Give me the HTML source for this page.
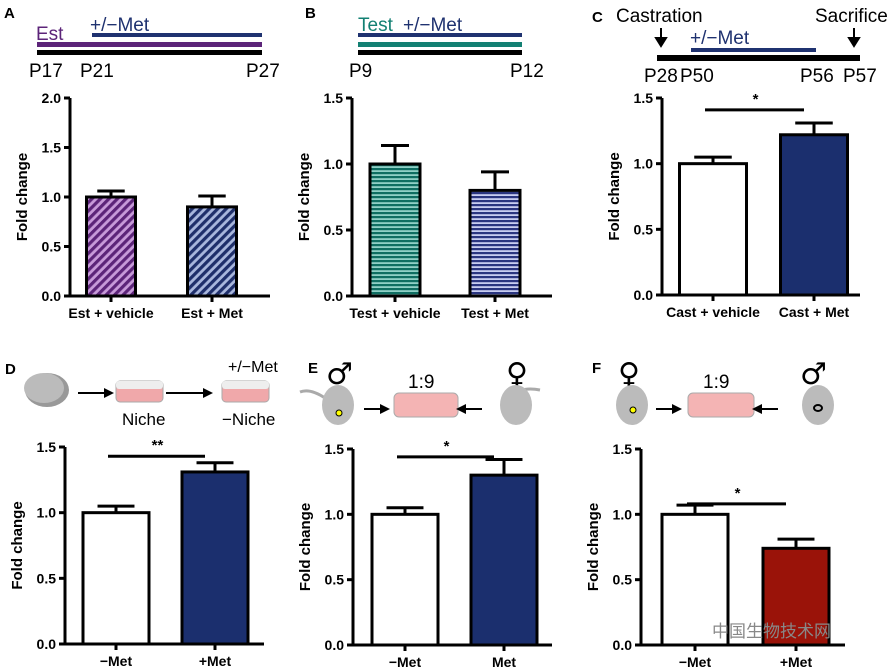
<!DOCTYPE html>
<html><head><meta charset="utf-8"><style>
body{margin:0;background:#fff}
svg{display:block;font-family:"Liberation Sans",Arial,sans-serif}
.t{font-weight:bold;font-size:15px}
.sym{font-family:"DejaVu Sans",sans-serif;font-size:30px}
</style></head><body>
<svg id="fig" width="894" height="669" viewBox="0 0 894 669" xmlns="http://www.w3.org/2000/svg">
<defs>
<pattern id="pPurple" patternUnits="userSpaceOnUse" width="6" height="6" patternTransform="rotate(45)"><rect width="6" height="6" fill="#c79ad9"/><rect width="3.2" height="6" fill="#5c2479"/></pattern>
<pattern id="pNavy" patternUnits="userSpaceOnUse" width="6" height="6" patternTransform="rotate(45)"><rect width="6" height="6" fill="#a9b7dd"/><rect width="3.2" height="6" fill="#1f2f6b"/></pattern>
<pattern id="pTeal" patternUnits="userSpaceOnUse" width="4" height="4"><rect width="4" height="4" fill="#8fd0c6"/><rect width="4" height="2.2" fill="#0f6e62"/></pattern>
<pattern id="pBlueH" patternUnits="userSpaceOnUse" width="4" height="4"><rect width="4" height="4" fill="#c7cdf0"/><rect width="4" height="2.2" fill="#2a3580"/></pattern>
</defs>
<g id="schemes" font-size="19">
 <text x="4" y="18" class="t">A</text>
 <text x="36" y="40" fill="#5c2479">Est</text>
 <text x="90" y="31" fill="#1f3270">+/−Met</text>
 <rect x="92" y="33" width="170" height="4" fill="#1f3270"/>
 <rect x="37" y="42" width="225" height="5" fill="#5c2479"/>
 <rect x="37" y="50" width="225" height="5" fill="#000"/>
 <text x="29" y="77">P17</text><text x="80" y="77">P21</text><text x="246" y="77">P27</text>
 <text x="305" y="18" class="t">B</text>
 <text x="358" y="31" fill="#138073">Test</text>
 <text x="403" y="31" fill="#1f3270">+/−Met</text>
 <rect x="358" y="33" width="164" height="4" fill="#1f3270"/>
 <rect x="358" y="42" width="164" height="5" fill="#138073"/>
 <rect x="358" y="50" width="164" height="5" fill="#000"/>
 <text x="349" y="77">P9</text><text x="510" y="77">P12</text>
 <text x="592" y="22" class="t">C</text>
 <text x="616" y="22">Castration</text>
 <text x="815" y="22">Sacrifice</text>
 <path d="M661 28V44M656 38L661 46L666 38Z" stroke="#000" stroke-width="2" fill="#000"/>
 <path d="M854 28V44M849 38L854 46L859 38Z" stroke="#000" stroke-width="2" fill="#000"/>
 <text x="690" y="44" fill="#1f3270">+/−Met</text>
 <rect x="691" y="48" width="125" height="4" fill="#1f3270"/>
 <rect x="657" y="55" width="203" height="6" fill="#000"/>
 <text x="644" y="82">P28</text><text x="680" y="82">P50</text><text x="800" y="82">P56</text><text x="843" y="82">P57</text>
 <text x="5" y="374" class="t">D</text>
 <ellipse cx="47" cy="390" rx="22" ry="17" fill="#999"/>
 <ellipse cx="44" cy="388" rx="20" ry="15" fill="#bbb"/>
 <path d="M78 393H106" stroke="#000" stroke-width="2"/><path d="M104 388L114 393L104 398Z"/>
 <rect x="116" y="381" width="47" height="21" rx="4" fill="#f0a8aa" stroke="#aaa"/><rect x="116" y="381" width="47" height="8" rx="3" fill="#eee"/>
 <path d="M166 393H205" stroke="#000" stroke-width="2"/><path d="M203 388L213 393L203 398Z"/>
 <rect x="222" y="381" width="47" height="21" rx="4" fill="#f0a8aa" stroke="#aaa"/><rect x="222" y="381" width="47" height="8" rx="3" fill="#eee"/>
 <text x="122" y="425" font-size="17">Niche</text>
 <text x="222" y="425" font-size="17">−Niche</text>
 <text x="228" y="372" font-size="16">+/−Met</text>
 <text x="308" y="373" class="t">E</text>
 <text x="326" y="384" class="sym">♂</text>
 <path d="M325 398Q310 388 300 392" stroke="#aaa" stroke-width="3" fill="none"/>
 <ellipse cx="338" cy="405" rx="16" ry="20" fill="#bbb"/><circle cx="339" cy="413" r="3" fill="#ff0" stroke="#000"/>
 <path d="M364 409H382" stroke="#000" stroke-width="2"/><path d="M380 404L390 409L380 414Z"/>
 <rect x="394" y="393" width="64" height="24" rx="5" fill="#f4b4b4" stroke="#aaa"/>
 <text x="408" y="388" font-size="19">1:9</text>
 <path d="M464 409H482" stroke="#000" stroke-width="2"/><path d="M466 404L456 409L466 414Z"/>
 <text x="506" y="384" class="sym">♀</text>
 <path d="M506 398Q520 386 540 390" stroke="#aaa" stroke-width="3" fill="none"/>
 <ellipse cx="516" cy="405" rx="16" ry="20" fill="#bbb"/>
 <text x="592" y="373" class="t">F</text>
 <text x="618" y="384" class="sym">♀</text>
 <ellipse cx="632" cy="405" rx="16" ry="20" fill="#bbb"/><circle cx="633" cy="410" r="3" fill="#ff0" stroke="#000"/>
 <path d="M656 409H674" stroke="#000" stroke-width="2"/><path d="M672 404L682 409L672 414Z"/>
 <rect x="688" y="393" width="66" height="24" rx="5" fill="#f4b4b4" stroke="#aaa"/>
 <text x="703" y="388" font-size="19">1:9</text>
 <path d="M760 409H778" stroke="#000" stroke-width="2"/><path d="M762 404L752 409L762 414Z"/>
 <text x="800" y="384" class="sym">♂</text>
 <ellipse cx="818" cy="405" rx="16" ry="20" fill="#bbb"/><ellipse cx="818" cy="408" rx="4" ry="3" fill="none" stroke="#000" stroke-width="2"/>
</g>
<g id="charts"></g>
<text x="712" y="637" font-size="17" fill="#888" font-family="'Liberation Sans','Noto Sans CJK SC',sans-serif">中国生物技术网</text>
</svg>
<script>
const catsA=["Est + vehicle","Est + Met"], valsA=[1.0,0.9], errA=[0.06,0.11];
const catsB=["Test + vehicle","Test + Met"], valsB=[1.0,0.8], errB=[0.14,0.14];
const catsC=["Cast + vehicle","Cast + Met"], valsC=[1.0,1.22], errC=[0.05,0.09];
const catsD=["−Met","+Met"], valsD=[1.0,1.31], errD=[0.05,0.07];
const catsE=["−Met","Met"], valsE=[1.0,1.30], errE=[0.05,0.12];
const catsF=["−Met","+Met"], valsF=[1.0,0.74], errF=[0.07,0.07];
const ticksA=["0.0","0.5","1.0","1.5","2.0"];
const ticks15=["0.0","0.5","1.0","1.5"];
const NS="http://www.w3.org/2000/svg";
const root=document.getElementById('charts');
function mk(tag,at,parent){const e=document.createElementNS(NS,tag);for(const k in at)e.setAttribute(k,at[k]);(parent||root).appendChild(e);return e;}
function chart(id,cfg,cats,vals,errs,ticks,fills,sig){
  const g=mk('g',{});
  
  
  const max=parseFloat(ticks[ticks.length-1]);
  const y=v=>cfg.y0-(v/max)*(cfg.y0-cfg.yt);
  const bw=cfg.bw;
  const xc=i=>cfg.x0+cfg.first+i*cfg.step;
  ticks.forEach(t=>{const v=parseFloat(t);
    mk('line',{x1:cfg.x0-6,x2:cfg.x0,y1:y(v),y2:y(v),stroke:'#000','stroke-width':3},g);
    const tx=mk('text',{x:cfg.x0-9,y:y(v)+5,'text-anchor':'end','font-weight':'bold','font-size':14},g);tx.textContent=t;
    
    
  });
  const yl=mk('text',{transform:`translate(${cfg.x0-43},${(cfg.y0+cfg.yt)/2}) rotate(-90)`,'text-anchor':'middle','font-weight':'bold','font-size':15},g);yl.textContent='Fold change';
  
  
  cats.forEach((c,i)=>{
    const cx=xc(i),top=y(vals[i]),et=y(vals[i]+errs[i]);
    mk('line',{x1:cx,x2:cx,y1:et,y2:top,stroke:'#000','stroke-width':3},g);
    mk('line',{x1:cx-bw*0.28,x2:cx+bw*0.28,y1:et,y2:et,stroke:'#000','stroke-width':3},g);
    const b=mk('rect',{x:cx-bw/2,y:top,width:bw,height:cfg.y0-top,fill:fills[i],stroke:'#000','stroke-width':3},g);
    
    
    mk('line',{x1:cx,x2:cx,y1:cfg.y0,y2:cfg.y0+6,stroke:'#000','stroke-width':3},g);
    const t=mk('text',{x:cx,y:cfg.y0+22,'text-anchor':'middle','font-weight':'bold','font-size':14},g);t.textContent=c;
    
    
  });
  mk('path',{d:`M${cfg.x0} ${cfg.yt}V${cfg.y0}H${cfg.xe}`,stroke:'#000','stroke-width':3,fill:'none'},g);
  if(sig){const sy=y(sig.at);
    const l=mk('line',{x1:xc(0)-8,x2:xc(1)-10,y1:sy,y2:sy,stroke:'#000','stroke-width':3},g);
    
    
    const s=mk('text',{x:(xc(0)+xc(1))/2-8,y:sy-6,'text-anchor':'middle','font-weight':'bold','font-size':15},g);s.textContent=sig.s;
    
    
  }
}
chart('a',{x0:70,y0:296,yt:98,xe:270,first:41,step:101,bw:49},catsA,valsA,errA,ticksA,['url(#pPurple)','url(#pNavy)']);
chart('b',{x0:352,y0:296,yt:98,xe:552,first:43,step:100,bw:50},catsB,valsB,errB,ticks15,['url(#pTeal)','url(#pBlueH)']);
chart('c',{x0:662,y0:295,yt:98,xe:860,first:51,step:101,bw:67},catsC,valsC,errC,ticks15,['#fff','#1b2f6e'],{at:1.41,s:'*'});
chart('d',{x0:65,y0:644,yt:447,xe:264,first:51,step:99,bw:66},catsD,valsD,errD,ticks15,['#fff','#1b2f6e'],{at:1.43,s:'**'});
chart('e',{x0:353,y0:645,yt:449,xe:552,first:52,step:99,bw:66},catsE,valsE,errE,ticks15,['#fff','#1b2f6e'],{at:1.44,s:'*'});
chart('f',{x0:641,y0:645,yt:449,xe:845,first:54,step:101,bw:66},catsF,valsF,errF,ticks15,['#fff','#9a1309'],{at:1.08,s:'*'});
</script>
</body></html>
